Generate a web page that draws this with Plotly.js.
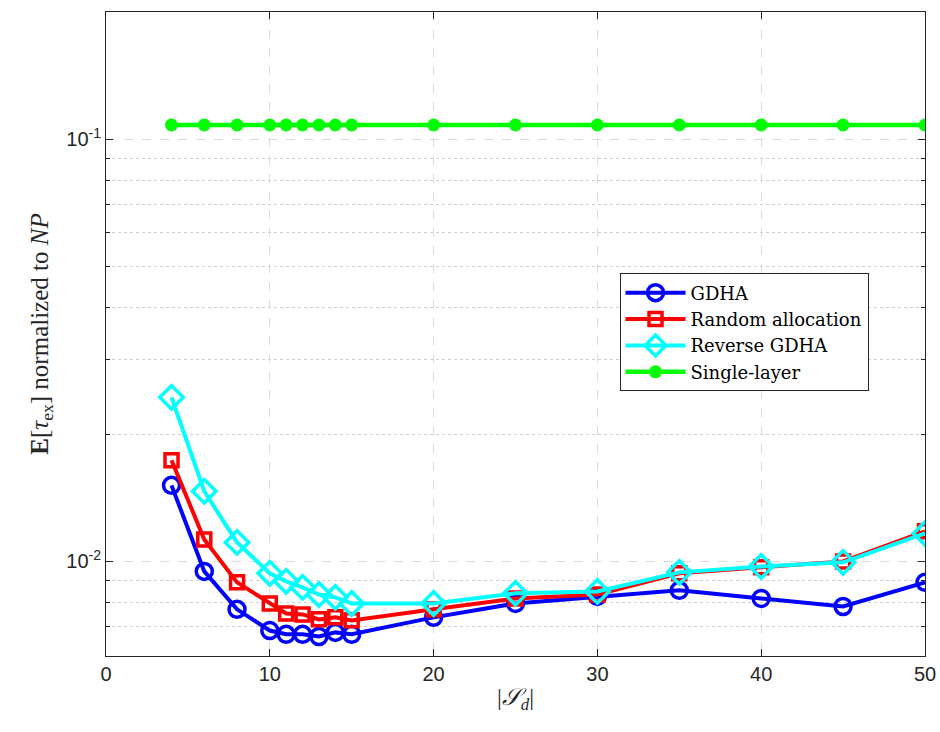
<!DOCTYPE html>
<html>
<head>
<meta charset="utf-8">
<script src="https://cdn.plot.ly/plotly-3.0.1.min.js"></script>
<style>html,body{margin:0;padding:0;background:#fff;}#chart{width:940px;height:732px;}</style>
</head>
<body>
<div id="chart"></div>
<script>
const xVals = [4, 6, 8, 10, 11, 12, 13, 14, 15, 20, 25, 30, 35, 40, 45, 50];
const gdha = [0.01514, 0.00947, 0.00770, 0.00686, 0.00672, 0.00672, 0.00664, 0.00679, 0.00672, 0.00737, 0.00795, 0.00826, 0.00854, 0.00817, 0.00782, 0.00892];
const randomAlloc = [0.01735, 0.01127, 0.00892, 0.00795, 0.00753, 0.00749, 0.00729, 0.00737, 0.00725, 0.00770, 0.00817, 0.00835, 0.00937, 0.00968, 0.01000, 0.01178];
const reverseGdha = [0.02446, 0.01466, 0.01109, 0.00937, 0.00897, 0.00868, 0.00835, 0.00822, 0.00795, 0.00795, 0.00840, 0.00849, 0.00942, 0.00973, 0.00995, 0.01165];
const singleLayer = [0.108, 0.108, 0.108, 0.108, 0.108, 0.108, 0.108, 0.108, 0.108, 0.108, 0.108, 0.108, 0.108, 0.108, 0.108, 0.108];
const seriesNames = ["GDHA", "Random allocation", "Reverse GDHA", "Single-layer"];
const yTickVals = [0.01, 0.1];
const yTickText = ["10<sup>-2</sup>", "10<sup>-1</sup>"];
const yMinorVals = [0.007, 0.008, 0.009, 0.02, 0.03, 0.04, 0.05, 0.06, 0.07, 0.08, 0.09];
const xTickVals = [0, 10, 20, 30, 40, 50];

const traces = [
  {x: xVals, y: gdha, name: seriesNames[0], mode: "lines+markers",
   line: {color: "#0000ff", width: 4},
   marker: {symbol: "circle-open", size: 16, color: "#0000ff", line: {width: 3.5, color: "#0000ff"}}},
  {x: xVals, y: randomAlloc, name: seriesNames[1], mode: "lines+markers",
   line: {color: "#ff0000", width: 4},
   marker: {symbol: "square-open", size: 13, color: "#ff0000", line: {width: 3.5, color: "#ff0000"}}},
  {x: xVals, y: reverseGdha, name: seriesNames[2], mode: "lines+markers",
   line: {color: "#00ffff", width: 4},
   marker: {symbol: "diamond-open", size: 18, color: "#00ffff", line: {width: 3.5, color: "#00ffff"}}},
  {x: xVals, y: singleLayer, name: seriesNames[3], mode: "lines+markers",
   line: {color: "#00ff00", width: 4.5},
   marker: {symbol: "circle", size: 13, color: "#00ff00"}}
];

const axisCommon = {
  showline: true, mirror: "ticks", linecolor: "#262626", linewidth: 1,
  ticks: "inside", ticklen: 7, tickcolor: "#262626",
  tickfont: {family: "Liberation Sans, Arial, sans-serif", size: 20, color: "#262626"},
  zeroline: false
};

const layout = {
  width: 940, height: 732,
  paper_bgcolor: "#ffffff", plot_bgcolor: "#ffffff",
  margin: {l: 106, r: 15, t: 12, b: 76},
  showlegend: true,
  legend: {
    x: 0.627, y: 0.594, xanchor: "left", yanchor: "top",
    bgcolor: "#ffffff", bordercolor: "#262626", borderwidth: 1,
    font: {family: "DejaVu Serif, Liberation Serif, serif", size: 18, color: "#000000"},
    tracegroupgap: 0, itemwidth: 60
  },
  xaxis: Object.assign({}, axisCommon, {
    range: [0, 50], tickmode: "array", tickvals: xTickVals,
    showgrid: true, gridcolor: "#dcdcdc", griddash: "dash", gridwidth: 1,
    title: {text: "|<i>𝒮</i><sub><i>d</i></sub>|", standoff: 4,
      font: {family: "Liberation Serif, DejaVu Serif, serif", size: 24, color: "#262626"}}
  }),
  yaxis: Object.assign({}, axisCommon, {
    type: "log", range: [Math.log10(0.00597), Math.log10(0.2)],
    tickmode: "array", tickvals: yTickVals, ticktext: yTickText,
    showgrid: true, gridcolor: "#dcdcdc", griddash: "dash", gridwidth: 1,
    minor: {tickmode: "array", tickvals: yMinorVals, ticks: "inside", ticklen: 4, tickcolor: "#262626",
      showgrid: true, gridcolor: "#cfcfcf", griddash: "dot", gridwidth: 1},
    title: {text: "<b>E</b>[<i>τ</i><sub>ex</sub>] normalized to <i>NP</i>", standoff: 10,
      font: {family: "Liberation Serif, DejaVu Serif, serif", size: 25, color: "#262626"}}
  })
};

Plotly.newPlot("chart", traces, layout, {displayModeBar: false, staticPlot: true});
</script>
</body>
</html>
